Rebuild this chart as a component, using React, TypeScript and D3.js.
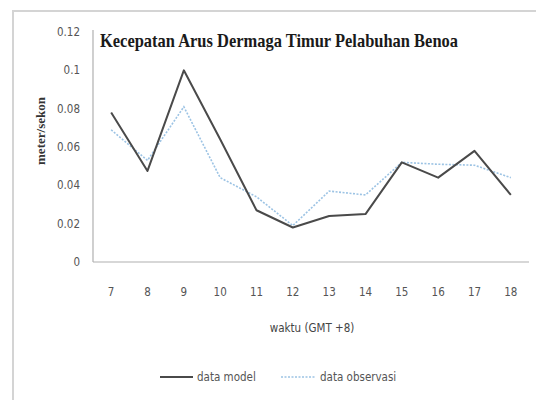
import React from "react";
import * as d3 from "d3";

const hours = ["7", "8", "9", "10", "11", "12", "13", "14", "15", "16", "17", "18"];
const dataModel = [0.078, 0.0475, 0.1, 0.064, 0.027, 0.018, 0.024, 0.025, 0.052, 0.044, 0.058, 0.035];
const dataObservasi = [0.069, 0.053, 0.081, 0.044, 0.034, 0.019, 0.037, 0.035, 0.052, 0.051, 0.0505, 0.044];
const yTicks = [0, 0.02, 0.04, 0.06, 0.08, 0.1, 0.12];
const yTickLabels = ["0", "0.02", "0.04", "0.06", "0.08", "0.1", "0.12"];
const title = "Kecepatan Arus Dermaga Timur Pelabuhan Benoa";
const xTitle = "waktu (GMT +8)";
const yTitle = "meter/sekon";
const seriesNames = ["data model", "data observasi"];

export default function App() {
  const W = 536, H = 400;
  const left = 93, right = 529, top = 32, bottom = 262;
  const x = d3.scaleBand().domain(hours).range([left, right]);
  const y = d3.scaleLinear().domain([0, 0.12]).range([bottom, top]);
  const cx = (h: string) => (x(h) as number) + x.bandwidth() / 2;
  const line = d3.line<number>().x((_, i) => cx(hours[i])).y((d) => y(d));
  const tickFont = "'Liberation Sans Narrow', 'DejaVu Sans Condensed', 'Liberation Sans', sans-serif";
  return (
    <svg width={W} height={H} style={{ position: "absolute", left: 0, top: 0, background: "#fff" }}>
      <rect x={0} y={0} width={W} height={H} fill="#fff" />
      <rect x={13} y={11} width={620} height={500} fill="none" stroke="#d4d4d4" strokeWidth={2} />
      <text x={100} y={47} fontFamily="'Liberation Serif', 'DejaVu Serif', serif" fontWeight="bold" fontSize={19}
        fill="#1a1a1a" textLength={358} lengthAdjust="spacingAndGlyphs">{title}</text>
      {/* axes */}
      <line x1={left} x2={left} y1={top - 2} y2={bottom} stroke="#b0b0b0" strokeWidth={1.2} />
      <line x1={left} x2={right} y1={bottom} y2={bottom} stroke="#b0b0b0" strokeWidth={1.2} />
      {yTicks.map((t, i) => (
        <text key={t} x={80} y={y(t)} dy="0.35em" textAnchor="end" fontSize={11.5} fontFamily={tickFont} fill="#555">
          {yTickLabels[i]}
        </text>
      ))}
      {hours.map((h) => (
        <text key={h} x={cx(h)} y={292} dy="0.35em" textAnchor="middle" fontSize={11.5} fontFamily={tickFont} fill="#555">
          {h}
        </text>
      ))}
      <text x={312} y={328} dy="0.35em" textAnchor="middle" fontSize={11.5} fontFamily={tickFont} fill="#444">
        {xTitle}
      </text>
      <text transform={`translate(40,131) rotate(-90)`} textAnchor="middle" dy="0.35em" fontSize={13}
        fontFamily="'Liberation Serif', 'DejaVu Serif', serif" fontWeight="bold" fill="#333"
        textLength={68} lengthAdjust="spacingAndGlyphs">
        {yTitle}
      </text>
      {/* series */}
      <path d={line(dataObservasi) || ""} fill="none" stroke="#9cc3e4" strokeWidth={1.6} strokeDasharray="2,1.5" />
      <path d={line(dataModel) || ""} fill="none" stroke="#4a4a4a" strokeWidth={2} strokeLinejoin="round" />
      {/* legend */}
      <line x1={160} x2={193} y1={377} y2={377} stroke="#4a4a4a" strokeWidth={2} />
      <text x={197} y={377} dy="0.35em" fontSize={11.5} fontFamily={tickFont} fill="#555">{seriesNames[0]}</text>
      <line x1={281} x2={316} y1={377} y2={377} stroke="#9cc3e4" strokeWidth={1.6} strokeDasharray="2,1.5" />
      <text x={320} y={377} dy="0.35em" fontSize={11.5} fontFamily={tickFont} fill="#555">{seriesNames[1]}</text>
    </svg>
  );
}
